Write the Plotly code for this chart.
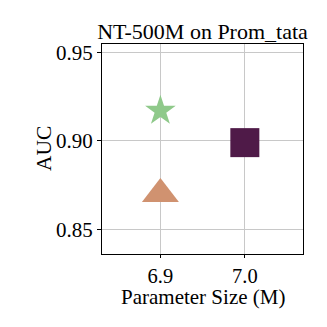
import plotly.graph_objects as go

# data
param_size = [6.9, 6.9, 7.0]
auc = [0.917, 0.870, 0.899]
symbols = ["star", "triangle-up", "square"]
colors = ["#8fc98a", "#d09270", "#4f1a48"]
sizes = [23, 32, 29]

x_ticks = [6.9, 7.0]
y_ticks = [0.85, 0.90, 0.95]

# the page body adds an 8px margin, so the figure is 8px smaller
W = H = 319

fig = go.Figure()

for x, y, s, c, sz in zip(param_size, auc, symbols, colors, sizes):
    fig.add_trace(
        go.Scatter(
            x=[x], y=[y],
            mode="markers",
            marker=dict(symbol=s, size=sz, color=c, line=dict(width=0)),
            showlegend=False,
        )
    )

fig.update_layout(
    width=W, height=H,
    margin=dict(l=94, r=24, t=36, b=73, autoexpand=False),
    paper_bgcolor="white",
    plot_bgcolor="white",
    font=dict(family="Liberation Serif", size=21, color="black"),
    title=dict(text="NT-500M on Prom_tata", x=0.5, xref="paper", xanchor="center",
               y=1 - 23 / H, yref="container", yanchor="middle",
               font=dict(family="Liberation Serif", size=22, color="black")),
)

# axis titles as annotations so their distance from the frame can be set
fig.add_annotation(text="Parameter Size (M)", xref="paper", yref="paper",
                   x=0.5, y=0, xanchor="center", yanchor="middle",
                   yshift=-43, showarrow=False, font=dict(size=21))
fig.add_annotation(text="AUC", xref="paper", yref="paper",
                   x=0, y=0.5, xanchor="center", yanchor="middle",
                   xshift=-58, textangle=-90, showarrow=False, font=dict(size=21.5))

fig.update_xaxes(
    range=[6.8308, 7.0689],
    tickvals=x_ticks, ticktext=["6.9", "7.0"],
    showgrid=True, gridcolor="#c8c8c8", gridwidth=1,
    showline=True, linecolor="black", linewidth=1, mirror=True,
    ticks="outside", ticklen=3, tickcolor="black",
    tickfont=dict(size=20.5),
    zeroline=False, automargin=False,
)
fig.update_yaxes(
    range=[0.8361, 0.9547],
    tickvals=y_ticks, ticktext=["0.85", "0.90", "0.95"],
    showgrid=True, gridcolor="#c8c8c8", gridwidth=1,
    showline=True, linecolor="black", linewidth=1, mirror=True,
    ticks="outside", ticklen=4, tickcolor="black",
    zeroline=False, automargin=False,
)

fig.write_html("out.html")
